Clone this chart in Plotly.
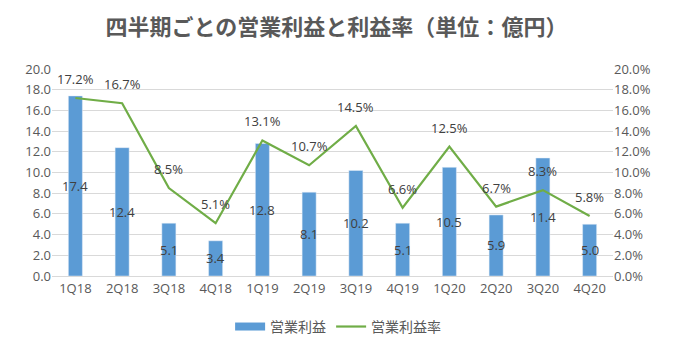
import plotly.graph_objects as go

categories = ["1Q18", "2Q18", "3Q18", "4Q18", "1Q19", "2Q19", "3Q19", "4Q19", "1Q20", "2Q20", "3Q20", "4Q20"]
operating_profit = [17.4, 12.4, 5.1, 3.4, 12.8, 8.1, 10.2, 5.1, 10.5, 5.9, 11.4, 5.0]
profit_rate_pct = [17.2, 16.7, 8.5, 5.1, 13.1, 10.7, 14.5, 6.6, 12.5, 6.7, 8.3, 5.8]

FONT = "Open Sans, Noto Sans CJK JP"
CJK = "Noto Sans CJK JP"
TXT = "#595959"
LBL = "#404040"
BLUE = "#5B9BD5"
GREEN = "#70AD47"

profit_rate = [v / 100 for v in profit_rate_pct]

fig = go.Figure()
fig.add_trace(go.Bar(
    x=categories, y=operating_profit, name="営業利益",
    marker_color=BLUE, width=0.3, yaxis="y", showlegend=False,
))
# legend-only entry drawn as a wide swatch like the reference
fig.add_trace(go.Scatter(
    x=[None], y=[None], name="営業利益", mode="lines",
    line=dict(color=BLUE, width=8), yaxis="y",
))
fig.add_trace(go.Scatter(
    x=categories, y=profit_rate, name="営業利益率", mode="lines",
    line=dict(color=GREEN, width=2.2), yaxis="y2",
))

annotations = []
for c, v in zip(categories, operating_profit):
    annotations.append(dict(x=c, y=v / 2, xref="x", yref="y", text=f"{v:.1f}",
                            showarrow=False, font=dict(family=FONT, size=13, color=LBL)))
for c, r in zip(categories, profit_rate):
    annotations.append(dict(x=c, y=r, xref="x", yref="y2", text=f"{r*100:.1f}%",
                            showarrow=False, yshift=19,
                            font=dict(family=FONT, size=13, color=LBL)))

fig.update_layout(
    width=673, height=355,
    margin=dict(l=52, r=60, t=69, b=75),
    paper_bgcolor="white", plot_bgcolor="white",
    font=dict(family=FONT, color=TXT, size=13),
    title=dict(text="<b>四半期ごとの営業利益と利益率（単位：億円）</b>", x=0.5, xanchor="center",
               y=0.924, yanchor="middle", font=dict(family=CJK, size=22, color=TXT)),
    xaxis=dict(type="category", showgrid=False, ticks="", showline=True,
               linecolor="#D9D9D9", linewidth=1, tickfont=dict(size=13, color=TXT)),
    yaxis=dict(range=[0, 20], dtick=2, tickformat=".1f", showgrid=True,
               gridcolor="#D9D9D9", gridwidth=1, zeroline=False, ticks="",
               tickfont=dict(size=13, color=TXT)),
    yaxis2=dict(range=[0, 0.2], dtick=0.02, tickformat=".1%", overlaying="y", side="right",
                showgrid=False, zeroline=False, ticks="", tickfont=dict(size=13, color=TXT)),
    legend=dict(orientation="h", x=0.51, xanchor="center", y=-0.246, yanchor="middle",
                font=dict(family=CJK, size=14, color=TXT), traceorder="normal",
                itemwidth=30),
    annotations=annotations,
    showlegend=True,
)

fig.write_html("out.html",
               config={"displayModeBar": False},
               post_script="document.body.style.margin='0';document.body.style.padding='0';")
